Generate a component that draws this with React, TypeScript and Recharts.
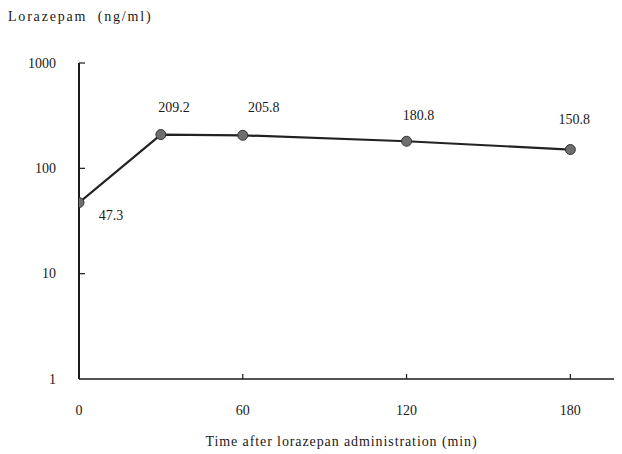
import { LineChart, Line, XAxis, YAxis, LabelList } from "recharts";

const times = [0, 30, 60, 120, 180];
const concentrations = [47.3, 209.2, 205.8, 180.8, 150.8];
const xTicks = [0, 60, 120, 180];
const yTicks = [1, 10, 100, 1000];

// where each value label sits relative to its point
const labelOffsets = [
  [32, 13],
  [13, -27],
  [21, -28],
  [12, -26],
  [4, -30],
];

const FONT = '"Liberation Serif", "Times New Roman", "DejaVu Serif", serif';
const INK = "#1a1a1a";

const data = times.map((t, i) => ({ time: t, conc: concentrations[i] }));

const XTick = (props: any) => {
  const { x, y, payload } = props;
  return (
    <g>
      {payload.value !== 0 && <line x1={x} y1={y} x2={x} y2={y - 5} stroke={INK} strokeWidth={1.2} />}
      <text x={x} y={y + 31} textAnchor="middle" dominantBaseline="central" fontSize={14} fontFamily={FONT} fill={INK}>
        {payload.value}
      </text>
    </g>
  );
};

const YTick = (props: any) => {
  const { x, y, payload } = props;
  return (
    <g>
      {payload.value !== 1 && <line x1={x} y1={y} x2={x + 6} y2={y} stroke={INK} strokeWidth={1.2} />}
      <text x={x - 23} y={y} textAnchor="end" dominantBaseline="central" fontSize={14} fontFamily={FONT} fill={INK}>
        {payload.value}
      </text>
    </g>
  );
};

const ValueLabel = (props: any) => {
  const { x, y, value, index } = props;
  const [dx, dy] = labelOffsets[index];
  return (
    <text x={x + dx} y={y + dy} textAnchor="middle" dominantBaseline="central" fontSize={14} fontFamily={FONT} fill={INK}>
      {value}
    </text>
  );
};

export default function App() {
  return (
    <div style={{ position: "absolute", left: 0, top: 0, width: 622, height: 454, background: "#fff" }}>
      <div
        style={{
          position: "absolute",
          left: 8,
          top: 9,
          fontFamily: FONT,
          fontSize: 14,
          letterSpacing: 1.8,
          whiteSpace: "pre",
          color: INK,
        }}
      >
        {"Lorazepam  (ng/ml)"}
      </div>
      <LineChart width={622} height={454} data={data} margin={{ top: 63, right: 8, left: 0, bottom: 0 }}>
        <XAxis
          type="number"
          dataKey="time"
          domain={[0, 196]}
          ticks={xTicks}
          allowDataOverflow
          height={75}
          tickSize={0}
          tickMargin={0}
          tick={<XTick />}
          axisLine={{ stroke: INK, strokeWidth: 1.6 }}
          label={{
            value: "Time after lorazepan administration (min)",
            position: "insideBottom",
            offset: 8,
            dx: -5,
            style: { fontFamily: FONT, fontSize: 14, fill: INK, letterSpacing: 0.9 },
          }}
        />
        <YAxis
          type="number"
          scale="log"
          domain={[1, 1000]}
          ticks={yTicks}
          allowDataOverflow
          width={79}
          tickSize={0}
          tickMargin={0}
          tick={<YTick />}
          axisLine={{ stroke: INK, strokeWidth: 2 }}
        />
        <Line
          type="linear"
          dataKey="conc"
          stroke="#222"
          strokeWidth={2.2}
          dot={{ r: 5, fill: "#6e6e6e", stroke: "#333", strokeWidth: 1 }}
          isAnimationActive={false}
        >
          <LabelList dataKey="conc" content={<ValueLabel />} />
        </Line>
      </LineChart>
    </div>
  );
}
